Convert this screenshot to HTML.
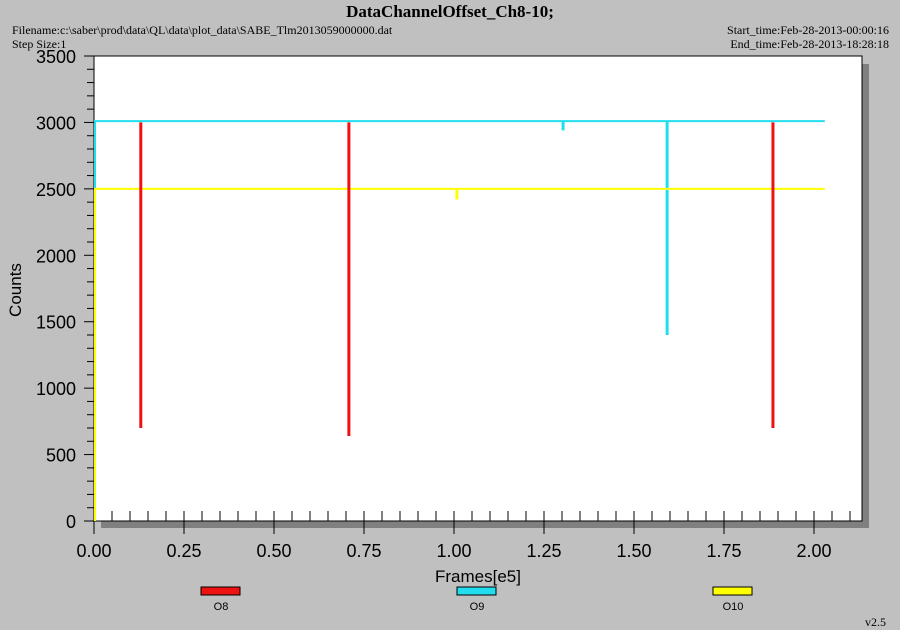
<!DOCTYPE html>
<html><head><meta charset="utf-8"><style>
body{margin:0;background:#c0c0c0;width:900px;height:630px;overflow:hidden}
svg{display:block}
.s{font-family:"Liberation Serif",serif}
.a{font-family:"Liberation Sans",sans-serif}
</style></head><body>
<svg width="900" height="630">
<rect width="900" height="630" fill="#c0c0c0"/>
<text class="s" x="450" y="17" text-anchor="middle" font-size="17" font-weight="bold">DataChannelOffset_Ch8-10;</text>
<text class="s" x="12" y="34" font-size="12">Filename:c:\saber\prod\data\QL\data\plot_data\SABE_Tlm2013059000000.dat</text>
<text class="s" x="12" y="48" font-size="12">Step Size:1</text>
<text class="s" x="889" y="34" text-anchor="end" font-size="12">Start_time:Feb-28-2013-00:00:16</text>
<text class="s" x="889" y="48" text-anchor="end" font-size="12">End_time:Feb-28-2013-18:28:18</text>
<rect x="101" y="521" width="768" height="7" fill="#808080"/>
<rect x="862" y="64" width="7" height="464" fill="#808080"/>
<rect x="94" y="56" width="768" height="465" fill="#fff" stroke="#000" stroke-width="1"/>
<g id="axes"></g>
<g id="marks"></g>
<text class="a" x="478" y="582" text-anchor="middle" font-size="17">Frames[e5]</text>
<text class="a" x="21" y="290" text-anchor="middle" font-size="17" transform="rotate(-90 21 290)">Counts</text>
<g id="legend"></g>
<text class="s" x="886" y="626" text-anchor="end" font-size="12">v2.5</text>
</svg>
<script>
const seriesNames=["O8","O9","O10"];
const seriesColors=["#ee1111","#22ddee","#ffff00"];
const baseLevels=[null,3010,2500];
const spikesO8X=[0.13,0.708,1.886];
const spikesO8Y=[700,640,700];
const spikesO9X=[0.0,1.303,1.592];
const spikesO9Y=[2500,2940,1400];
const spikesO10X=[0.0,1.008];
const spikesO10Y=[0,2420];
const lineEndX=2.03;
const xTicks=["0.00","0.25","0.50","0.75","1.00","1.25","1.50","1.75","2.00"];
const yTicks=["0","500","1000","1500","2000","2500","3000","3500"];
const NS="http://www.w3.org/2000/svg";
const X0=94,X1=862,Y0=521,Y1=56;
const xs=v=>X0+v*360;
const ys=v=>Y0-(v/3500)*(Y0-Y1);
function mk(t,a,p){const e=document.createElementNS(NS,t);for(const k in a)e.setAttribute(k,a[k]);p.appendChild(e);return e;}
const ax=document.getElementById('axes'),mg=document.getElementById('marks'),lg=document.getElementById('legend');
for(let v=0;v<=3500;v+=100){const y=ys(v);const major=v%500===0;
const t=mk('line',{x1:major?84:87,x2:X0,y1:y,y2:y,stroke:'#000'},ax);

}
yTicks.forEach(s=>{const tx=mk('text',{x:76,y:ys(+s)+7,'text-anchor':'end','font-size':18,class:'a'},ax);tx.textContent=s;

});
for(let i=0;i*0.05<=2.13;i++){const v=i*0.05;const x=xs(v);const major=i%5===0;
const t=mk('line',{x1:x,x2:x,y1:major?511:511,y2:major?534:521,stroke:'#000'},ax);

}
xTicks.forEach(s=>{const tx=mk('text',{x:xs(+s),y:557,'text-anchor':'middle','font-size':18,class:'a'},ax);tx.textContent=s;

});
function spikes(xa,ya,base,col,name){xa.forEach((v,i)=>{const l=mk('line',{x1:xs(v)+(v===0?1:0),x2:xs(v)+(v===0?1:0),y1:ys(base),y2:ys(ya[i]),stroke:col,'stroke-width':v===0?2:3},mg);

});}
spikes(spikesO10X,spikesO10Y,baseLevels[2],seriesColors[2],'o10');
spikes(spikesO9X,spikesO9Y,baseLevels[1],seriesColors[1],'o9');
[1,2].forEach(i=>{const l=mk('line',{x1:X0,x2:xs(lineEndX),y1:ys(baseLevels[i]),y2:ys(baseLevels[i]),stroke:seriesColors[i],'stroke-width':2},mg);

});
spikes(spikesO8X,spikesO8Y,3000,seriesColors[0],'o8');
const legX=[201,457,713];
seriesNames.forEach((n,i)=>{const r=mk('rect',{x:legX[i],y:587,width:39,height:8,fill:seriesColors[i],stroke:'#000'},lg);


const t=mk('text',{x:legX[i]+20,y:610,'text-anchor':'middle','font-size':11,class:'a'},lg);t.textContent=n;

});
</script>
</body></html>
